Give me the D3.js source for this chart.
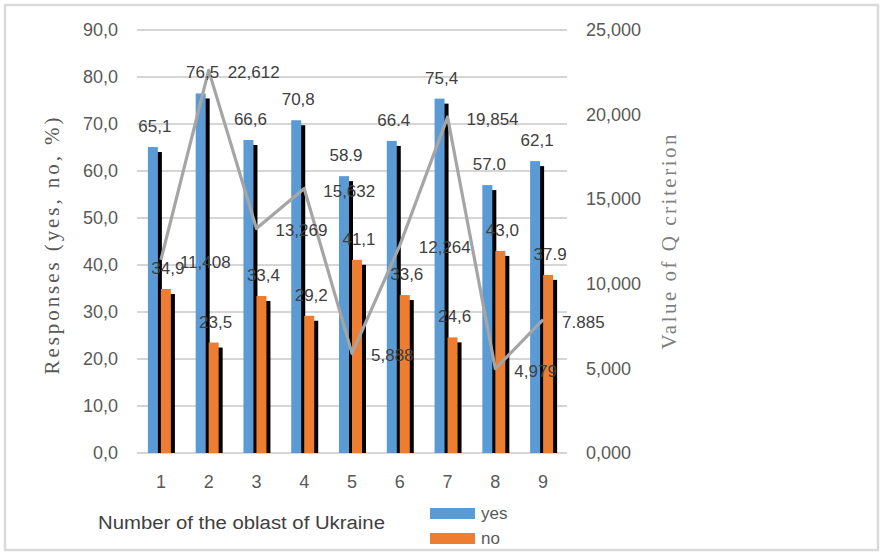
<!DOCTYPE html>
<html>
<head>
<meta charset="utf-8">
<script src="https://cdn.jsdelivr.net/npm/d3@7"></script>
<style>
  html, body { margin: 0; padding: 0; background: #fff; }
  svg { display: block; }
</style>
</head>
<body>
<script>
// ---- data ----
const categories = ["1", "2", "3", "4", "5", "6", "7", "8", "9"];
const yesValues = [65.1, 76.5, 66.6, 70.8, 58.9, 66.4, 75.4, 57.0, 62.1];
const noValues  = [34.9, 23.5, 33.4, 29.2, 41.1, 33.6, 24.6, 43.0, 37.9];
const qValues   = [11.408, 22.612, 13.269, 15.632, 5.888, 12.264, 19.854, 4.979, 7.885];
// decimal separators as printed in the source labels
const yesSeps = [",", ",", ",", ",", ".", ".", ",", ".", ","];
const noSeps  = [",", ",", ",", ",", ",", ",", ",", ",", "."];
const qSeps   = [",", ",", ",", ",", ",", ",", ",", ",", "."];
const leftTicks  = [0, 10, 20, 30, 40, 50, 60, 70, 80, 90];
const rightTicks = [0, 5, 10, 15, 20, 25];
const seriesNames = ["yes", "no"];
const leftTitle = "Responses (yes, no, %)";
const rightTitle = "Value of Q criterion";
const xTitle = "Number of the oblast of Ukraine";

// ---- setup ----
const W = 883, H = 553;
const colors = { yes: "#5b9bd5", no: "#ed7d31", line: "#a5a5a5" };
const locale = d3.formatLocale({ decimal: ",", thousands: " ", grouping: [3], currency: ["", ""] });
const f1 = locale.format(".1f"), f3 = locale.format(".3f");
const withSep = (v, d, sep) => v.toFixed(d).replace(".", sep);

const svg = d3.select("body").append("svg").attr("width", W).attr("height", H)
  .style("font-family", "'Liberation Sans', Arial, sans-serif");

svg.append("rect").attr("x", 5).attr("y", 5).attr("width", 873).attr("height", 545)
  .attr("fill", "#fff").attr("stroke", "#d9d9d9").attr("stroke-width", 2.5);

const plot = { left: 137, right: 567, top: 30, bottom: 453 };
const x = d3.scaleBand().domain(categories).range([plot.left, plot.right]);
const yL = d3.scaleLinear().domain([0, 90]).range([plot.bottom, plot.top]);
const yR = d3.scaleLinear().domain([0, 25]).range([plot.bottom, plot.top]);
const cx = d => x(d) + x.bandwidth() / 2;

// gridlines
svg.append("g").selectAll("line").data(leftTicks).join("line")
  .attr("x1", plot.left).attr("x2", plot.right)
  .attr("y1", d => yL(d)).attr("y2", d => yL(d))
  .attr("stroke", "#d6d6d6").attr("stroke-width", 2);

// axes
const axL = svg.append("g").attr("transform", `translate(${plot.left},0)`)
  .call(d3.axisLeft(yL).tickValues(leftTicks).tickFormat(f1).tickSize(0).tickPadding(19));
const axR = svg.append("g").attr("transform", `translate(${plot.right},0)`)
  .call(d3.axisRight(yR).tickValues(rightTicks).tickFormat(f3).tickSize(0).tickPadding(19));
const axB = svg.append("g").attr("transform", `translate(0,${plot.bottom})`)
  .call(d3.axisBottom(x).tickSize(0).tickPadding(22));
[axL, axR, axB].forEach(g => {
  g.select(".domain").remove();
  g.selectAll("text").attr("fill", "#595959").style("font-size", "18px")
    .style("font-family", "'Liberation Sans', Arial, sans-serif");
});

// bars with shadows
const barW = 10;
const shadowDx = 4, shadowDy = 5;
const rows = categories.map((c, i) => ({ c, yes: yesValues[i], no: noValues[i], q: qValues[i], i }));
const barSpec = [
  { key: "yes", off: -13 },
  { key: "no", off: 0 }
];
barSpec.forEach(s => {
  const g = svg.append("g");
  g.selectAll("rect.sh").data(rows).join("rect").attr("class", "sh")
    .attr("x", d => cx(d.c) + s.off + shadowDx)
    .attr("y", d => yL(d[s.key]) + shadowDy)
    .attr("width", barW)
    .attr("height", d => plot.bottom - yL(d[s.key]) - shadowDy)
    .attr("fill", "#000");
  g.selectAll("rect.bar").data(rows).join("rect").attr("class", "bar")
    .attr("x", d => cx(d.c) + s.off)
    .attr("y", d => yL(d[s.key]))
    .attr("width", barW)
    .attr("height", d => plot.bottom - yL(d[s.key]))
    .attr("fill", colors[s.key]);
});

// line
const line = d3.line().x(d => cx(d.c)).y(d => yR(d.q));
svg.append("path").datum(rows).attr("d", line)
  .attr("fill", "none").attr("stroke", colors.line).attr("stroke-width", 3.2)
  .attr("stroke-linejoin", "round");

// data labels
const lbl = svg.append("g").style("font-size", "17px").attr("fill", "#404040");
lbl.selectAll("text.y").data(rows).join("text").attr("class", "y")
  .attr("x", d => cx(d.c) - 6).attr("y", d => yL(d.yes) - 15)
  .attr("text-anchor", "middle").text(d => withSep(d.yes, 1, yesSeps[d.i]));
lbl.selectAll("text.n").data(rows).join("text").attr("class", "n")
  .attr("x", d => cx(d.c) + 7).attr("y", d => yL(d.no) - 15)
  .attr("text-anchor", "middle").text(d => withSep(d.no, 1, noSeps[d.i]));
lbl.selectAll("text.q").data(rows).join("text").attr("class", "q")
  .attr("x", d => cx(d.c) + 19).attr("y", d => yR(d.q) + 8)
  .attr("text-anchor", "start").text(d => withSep(d.q, 3, qSeps[d.i]));

// axis titles
svg.append("text").attr("transform", "translate(59,246) rotate(-90)")
  .attr("text-anchor", "middle").attr("fill", "#595959")
  .style("font-family", "'Liberation Serif', 'Times New Roman', serif").style("font-size", "21px")
  .attr("textLength", 257).attr("lengthAdjust", "spacing").text(leftTitle);
svg.append("text").attr("transform", "translate(676,242) rotate(-90)")
  .attr("text-anchor", "middle").attr("fill", "#7f7f7f")
  .style("font-family", "'Liberation Serif', 'Times New Roman', serif").style("font-size", "21px")
  .attr("textLength", 215).attr("lengthAdjust", "spacing").text(rightTitle);
svg.append("text").attr("x", 98).attr("y", 529).attr("fill", "#404040")
  .style("font-size", "18px").attr("textLength", 287).attr("lengthAdjust", "spacingAndGlyphs")
  .text(xTitle);

// legend
const leg = svg.append("g");
seriesNames.forEach((n, i) => {
  leg.append("rect").attr("x", 430).attr("y", 508 + i * 25).attr("width", 45).attr("height", 11)
    .attr("fill", colors[n]);
  leg.append("text").attr("x", 481).attr("y", 519 + i * 25).attr("fill", "#595959")
    .style("font-size", "17px").text(n);
});
</script>
</body>
</html>
